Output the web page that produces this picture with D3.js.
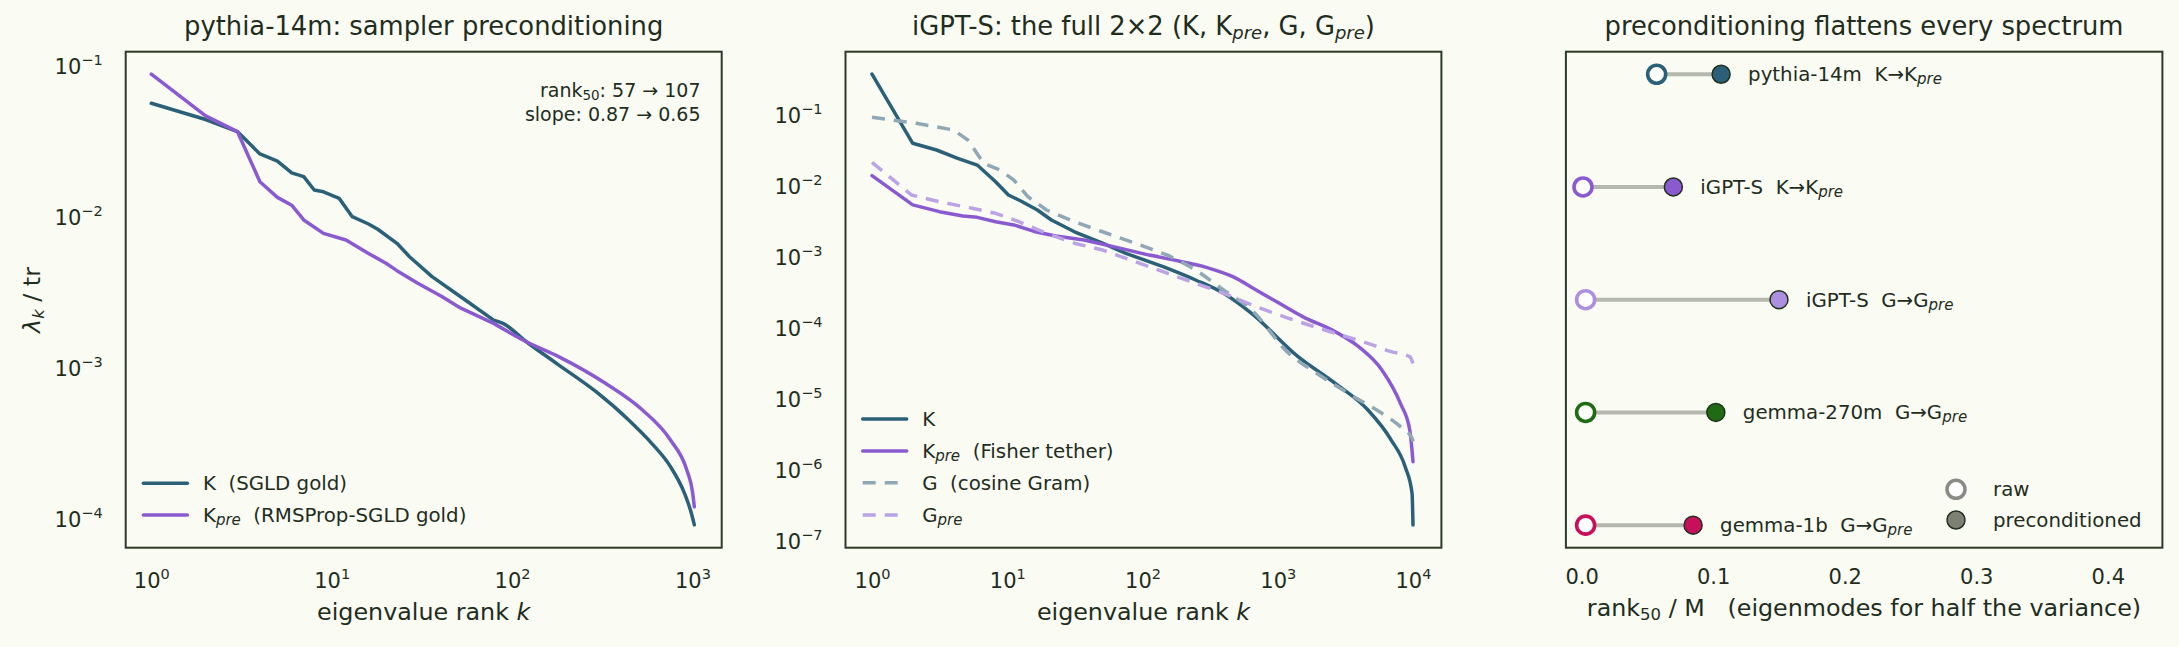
<!DOCTYPE html>
<html><head><meta charset="utf-8">
<script src="https://cdn.jsdelivr.net/npm/d3@7"></script>
<style>
html,body{margin:0;padding:0;background:#fafbf2;}
svg text{font-family:"DejaVu Sans",sans-serif;fill:#1f2d1f;white-space:pre;}
</style></head>
<body>
<svg id="chart" width="2179" height="647"></svg>
<script>
// ---------------- DATA ----------------
// Panel 1: pythia-14m
const p1K_rank = [1,2,3,4,5,6,7,8,9,11,13,16,18,23,27,36,55,79,89,120,181,292,443,594,755,902,986,1024];
const p1K_val  = [0.0564,0.044,0.0366,0.0260,0.0233,0.0195,0.0184,0.0150,0.0146,0.0132,0.00998,0.00893,0.00824,0.00665,0.00542,0.0040,0.0028,0.00206,0.00196,0.00148,0.00104,0.00069,0.000448,0.000314,0.00022,0.000147,0.000108,0.0000904];
const p1Kpre_rank = [1,2,3,4,5,6,7,9,12,16,20,23,30,41,52,79,120,181,329,528,755,930,1000,1024];
const p1Kpre_val  = [0.088,0.0465,0.0366,0.0170,0.0134,0.0119,0.0095,0.00774,0.0070,0.0057,0.0049,0.00438,0.00361,0.00294,0.00247,0.00196,0.00148,0.00118,0.000785,0.000522,0.00033,0.000209,0.000150,0.000119];
const p1Legend = ["K  (SGLD gold)", "  (RMSProp-SGLD gold)"];
const p1Annot = ["57 → 107", "slope: 0.87 → 0.65"];
const p1XTicks = [1,10,100,1000];
const p1XExp = ["0","1","2","3"];
const p1YTicks = [1e-1,1e-2,1e-3,1e-4];
const p1YExp = ["−1","−2","−3","−4"];

// Panel 2: iGPT-S
const p2K_rank = [1,2,3,4.3,6,8.2,10.2,12.6,16.7,21.2,31.4,50.6,75.3,142,247,397,640,1413,2661,4645,6902,8750,9840,10000];
const p2K_val  = [0.378,0.0399,0.0321,0.0245,0.0197,0.01148,0.00745,0.00614,0.00458,0.00331,0.00226,0.00156,0.00112,0.000728,0.000472,0.000307,0.00016,0.0000393,0.0000165,0.00000695,0.00000262,0.0000011,4.66e-7,1.66e-7];
const p2Kpre_rank = [1,2,3.15,4.7,6,8.2,11.2,16.7,22.9,36.9,64.3,112,195,313,466,692,1028,1528,2661,3963,5888,8072,9462,10000];
const p2Kpre_val  = [0.01396,0.0054,0.00434,0.00378,0.00361,0.00313,0.00282,0.00222,0.00197,0.00173,0.00136,0.00106,0.000855,0.00069,0.000526,0.000341,0.000222,0.000144,0.0000883,0.0000542,0.0000255,0.0000086,0.00000363,0.0000013];
const p2G_rank = [1,2.12,4.0,5.1,6.7,8.8,11.2,14.2,19.5,31.4,50.6,88,153,247,397,640,1205,1941,3656,5888,8072,9840,10000];
const p2G_val  = [0.0929,0.0764,0.0615,0.0445,0.0208,0.0168,0.0121,0.00706,0.00458,0.00313,0.00226,0.00156,0.00106,0.000653,0.000341,0.000179,0.0000438,0.0000229,0.0000107,0.00000624,0.00000405,0.00000277,0.0000025];
const p2Gpre_rank = [1,1.96,3.15,5.5,8.2,12.2,19.5,31.4,50.6,81.5,142,247,397,692,1205,2661,4645,6902,9462,10000];
const p2Gpre_val  = [0.0215,0.00745,0.006,0.00484,0.00411,0.00313,0.00215,0.00156,0.00125,0.000904,0.000618,0.000424,0.000307,0.000199,0.000136,0.0000838,0.0000605,0.0000461,0.0000393,0.0000316];
const p2XTicks = [1,10,100,1000,10000];
const p2XExp = ["0","1","2","3","4"];
const p2YTicks = [1e-1,1e-2,1e-3,1e-4,1e-5,1e-6,1e-7];
const p2YExp = ["−1","−2","−3","−4","−5","−6","−7"];

// Panel 3: rank50 / M
const p3Models = ["pythia-14m  K→K","iGPT-S  K→K","iGPT-S  G→G","gemma-270m  G→G","gemma-1b  G→G"];
const p3Raw = [0.057,0.001,0.003,0.003,0.003];
const p3Pre = [0.106,0.0697,0.150,0.102,0.0847];
const p3Colors = ["#2b6178","#8a5bd0","#ad8fe0","#1e6b14","#c8105a"];
const p3XTicks = [0.0,0.1,0.2,0.3,0.4];

// ---------------- STYLE / LAYOUT ----------------
const TXT = "#1f2d1f", FRAME = "#2b3b27";
const cK = "#2b6178", cKpre = "#8a5bd0", cG = "#90a8b5", cGpre = "#bba3e6";
const TOP = 51.7, BOT = 547.7;
const svg = d3.select("#chart");
svg.append("rect").attr("width",2179).attr("height",647).attr("fill","#fafbf2");

function frame(x0,x1){
  svg.append("rect").attr("x",x0).attr("y",TOP).attr("width",x1-x0).attr("height",BOT-TOP)
    .attr("fill","none").attr("stroke",FRAME).attr("stroke-width",2);
}
function title(cx, parts){
  const t = svg.append("text").attr("x",cx).attr("y",35).attr("text-anchor","middle").attr("font-size",25.8);
  parts.forEach(p=>{
    const s = t.append("tspan").text(p.t);
    if(p.sub){ s.attr("font-size",18).attr("font-style","italic").attr("dy",4); }
    else if(p.back){ s.attr("dy",-4); }
  });
}
function expLabels(g, exps){
  g.selectAll(".tick text").each(function(d,i){
    const t = d3.select(this); t.text(null);
    t.append("tspan").text("10");
    t.append("tspan").attr("dy",-9).attr("font-size",14.5).text(exps[i]);
  });
}
function logAxes(x, y, xt, xe, yt, ye, x0){
  const gx = svg.append("g").attr("transform",`translate(0,${BOT})`)
    .call(d3.axisBottom(x).tickValues(xt).tickSize(0).tickPadding(0));
  gx.select(".domain").remove();
  gx.selectAll(".tick text").attr("y",40.5).attr("dy",0).attr("font-size",21).attr("fill",TXT)
    .attr("font-family","DejaVu Sans");
  expLabels(gx, xe);
  const gy = svg.append("g").attr("transform",`translate(${x0},0)`)
    .call(d3.axisLeft(y).tickValues(yt).tickSize(0).tickPadding(23));
  gy.select(".domain").remove();
  gy.selectAll(".tick text").attr("dy",0).attr("y",8).attr("font-size",21).attr("fill",TXT)
    .attr("font-family","DejaVu Sans");
  expLabels(gy, ye);
}
// jagged low-rank part drawn straight, smooth tail drawn with a monotone curve
function series(x,y,ks,vs,color,dash,T){
  const pts = ks.map((k,i)=>[x(k),y(vs[i])]);
  let idx = ks.findIndex(k=>k>=T); if(idx<0) idx = pts.length-1;
  const a = d3.line()(pts.slice(0,idx+1));
  const b = d3.line().curve(d3.curveMonotoneX)(pts.slice(idx));
  const d = a + (pts.length-idx>1 ? b.replace(/^M/,"L") : "");
  svg.append("path").attr("d",d)
    .attr("fill","none").attr("stroke",color).attr("stroke-width",3.5)
    .attr("stroke-linecap", dash ? "butt" : "round").attr("stroke-linejoin","round")
    .attr("stroke-dasharray", dash ? "13,9" : null);
}
function legendEntry(x, y, color, dash, main, sub, rest){
  svg.append("line").attr("x1",x).attr("x2",x+44).attr("y1",y).attr("y2",y)
    .attr("stroke",color).attr("stroke-width",3.5)
    .attr("stroke-linecap", dash ? "butt":"round").attr("stroke-dasharray", dash ? "13,9" : null);
  const t = svg.append("text").attr("x",x+59.5).attr("y",y+7).attr("font-size",19.8);
  t.append("tspan").text(main);
  if(sub){
    t.append("tspan").attr("font-size",15).attr("font-style","italic").attr("dy",3).text(sub);
    if(rest) t.append("tspan").attr("dy",-3).text(rest);
  }
}

// ---------------- PANEL 1 ----------------
const x1 = d3.scaleLog().domain([10**-0.142, 10**3.162]).range([125.7,721.7]);
const y1 = d3.scaleLog().domain([10**-4.195, 10**-0.907]).range([BOT,TOP]);
logAxes(x1,y1,p1XTicks,p1XExp,p1YTicks,p1YExp,125.7);
series(x1,y1,p1K_rank,p1K_val,cK,false,79);
series(x1,y1,p1Kpre_rank,p1Kpre_val,cKpre,false,79);
frame(125.7,721.7);
title(423.7,[{t:"pythia-14m: sampler preconditioning"}]);
legendEntry(143.4,483.3,cK,false,p1Legend[0]);
legendEntry(143.4,515,cKpre,false,"K","pre",p1Legend[1]);
{
  const t = svg.append("text").attr("x",700.5).attr("y",97).attr("text-anchor","end").attr("font-size",19);
  t.append("tspan").text("rank");
  t.append("tspan").attr("font-size",13.5).attr("dy",3).text("50");
  t.append("tspan").attr("dy",-3).text(": " + p1Annot[0]);
  svg.append("text").attr("x",700.5).attr("y",121).attr("text-anchor","end").attr("font-size",19).text(p1Annot[1]);
}
svg.append("text").attr("x",423.7).attr("y",620).attr("text-anchor","middle").attr("font-size",23.8)
  .call(t=>{ t.append("tspan").text("eigenvalue rank "); t.append("tspan").attr("font-style","italic").text("k"); });
svg.append("text").attr("transform","translate(39.5,300) rotate(-90)").attr("text-anchor","middle").attr("font-size",23.8)
  .call(t=>{ t.append("tspan").attr("font-style","italic").text("λ");
             t.append("tspan").attr("font-style","italic").attr("font-size",16.5).attr("dy",4).text("k");
             t.append("tspan").attr("dy",-4).text(" / tr"); });

// ---------------- PANEL 2 ----------------
const x2 = d3.scaleLog().domain([10**-0.196, 10**4.21]).range([845.5,1441.4]);
const y2 = d3.scaleLog().domain([10**-7.099, 10**-0.108]).range([BOT,TOP]);
logAxes(x2,y2,p2XTicks,p2XExp,p2YTicks,p2YExp,845.5);
series(x2,y2,p2K_rank,p2K_val,cK,false,140);
series(x2,y2,p2Kpre_rank,p2Kpre_val,cKpre,false,110);
series(x2,y2,p2G_rank,p2G_val,cG,true,150);
series(x2,y2,p2Gpre_rank,p2Gpre_val,cGpre,true,140);
frame(845.5,1441.4);
title(1143.5,[{t:"iGPT-S: the full 2×2 (K, K"},{t:"pre",sub:true},{t:", G, G",back:true},{t:"pre",sub:true},{t:")",back:true}]);
legendEntry(862.7,419,cK,false,"K");
legendEntry(862.7,451,cKpre,false,"K","pre","  (Fisher tether)");
legendEntry(862.7,482.7,cG,true,"G  (cosine Gram)");
legendEntry(862.7,515,cGpre,true,"G","pre");
svg.append("text").attr("x",1143.5).attr("y",620).attr("text-anchor","middle").attr("font-size",23.8)
  .call(t=>{ t.append("tspan").text("eigenvalue rank "); t.append("tspan").attr("font-style","italic").text("k"); });

// ---------------- PANEL 3 ----------------
const x3 = d3.scaleLinear().domain([-0.012, 0.4415]).range([1565.9,2162.4]);
const y3 = d3.scaleLinear().domain([-0.2, 4.2]).range([TOP,BOT]);
{
  const gx = svg.append("g").attr("transform",`translate(0,${BOT})`)
    .call(d3.axisBottom(x3).tickValues(p3XTicks).tickSize(0).tickFormat(d3.format(".1f")));
  gx.select(".domain").remove();
  gx.selectAll(".tick text").attr("y",36.5).attr("dy",0).attr("font-size",21).attr("fill",TXT)
    .attr("font-family","DejaVu Sans");
}
p3Models.forEach((m,i)=>{
  const yy = y3(i);
  svg.append("line").attr("x1",x3(p3Raw[i])).attr("x2",x3(p3Pre[i])).attr("y1",yy).attr("y2",yy)
    .attr("stroke","#b5b8ad").attr("stroke-width",4);
  svg.append("circle").attr("cx",x3(p3Raw[i])).attr("cy",yy).attr("r",9)
    .attr("fill","#ffffff").attr("stroke",p3Colors[i]).attr("stroke-width",3.6);
  svg.append("circle").attr("cx",x3(p3Pre[i])).attr("cy",yy).attr("r",9)
    .attr("fill",p3Colors[i]).attr("stroke","#22301f").attr("stroke-width",1.5);
  const t = svg.append("text").attr("x",x3(p3Pre[i])+27).attr("y",yy+7).attr("font-size",19.8);
  t.append("tspan").text(m);
  t.append("tspan").attr("font-size",15).attr("font-style","italic").attr("dy",3).text("pre");
});
frame(1565.9,2162.4);
title(1864,[{t:"preconditioning flattens every spectrum"}]);
svg.append("circle").attr("cx",1956).attr("cy",489.3).attr("r",9).attr("fill","#fff").attr("stroke","#8a8a86").attr("stroke-width",3.6);
svg.append("circle").attr("cx",1956).attr("cy",520).attr("r",9).attr("fill","#7b8274").attr("stroke","#22301f").attr("stroke-width",1.5);
svg.append("text").attr("x",1993).attr("y",496.3).attr("font-size",19.8).text("raw");
svg.append("text").attr("x",1993).attr("y",527).attr("font-size",19.8).text("preconditioned");
svg.append("text").attr("x",1864).attr("y",616).attr("text-anchor","middle").attr("font-size",23.8)
  .call(t=>{ t.append("tspan").text("rank");
             t.append("tspan").attr("font-size",16.5).attr("dy",4).text("50");
             t.append("tspan").attr("dy",-4).text(" / M   (eigenmodes for half the variance)"); });
</script>
</body></html>
